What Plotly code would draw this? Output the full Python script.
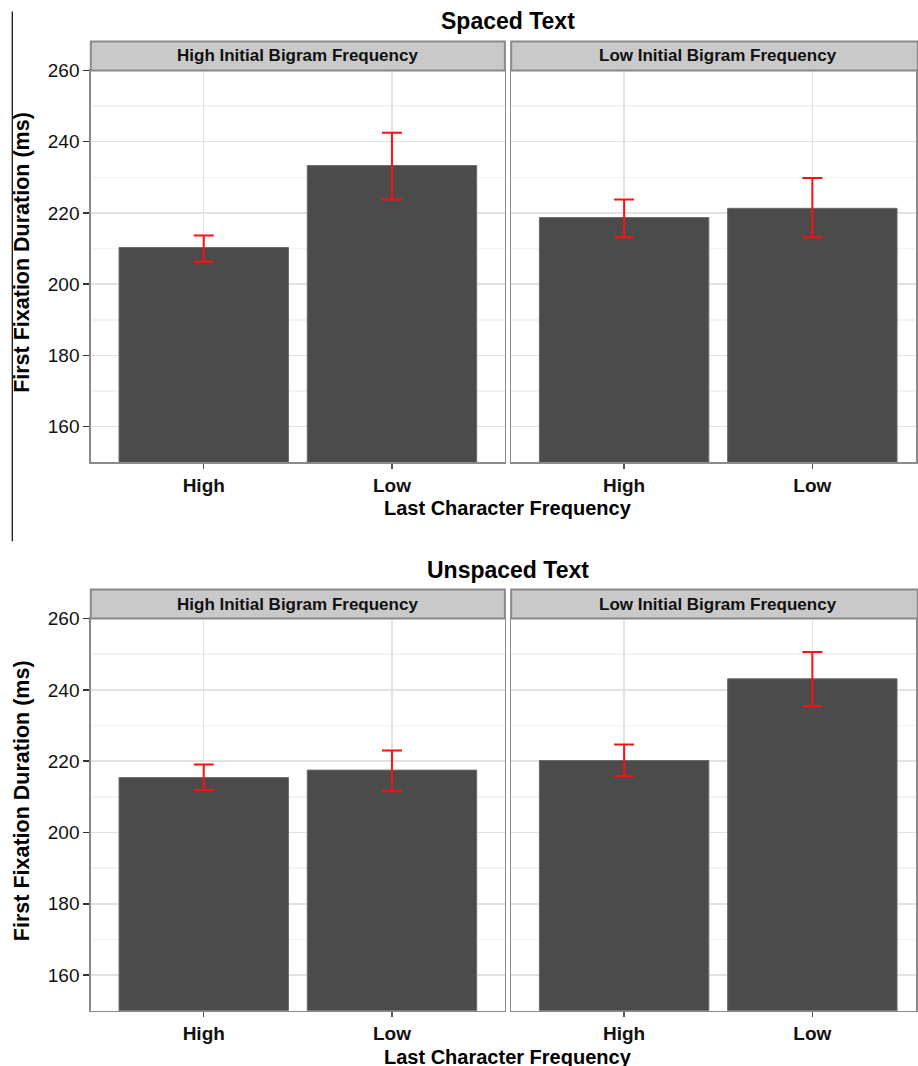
import plotly.graph_objects as go

# ---------------- data ----------------
categories = ["High", "Low"]          # Last Character Frequency
cat_pos = [1, 2]
facets = ["High Initial Bigram Frequency", "Low Initial Bigram Frequency"]
panel_titles = ["Spaced Text", "Unspaced Text"]

spaced_high_bigram_mean = [210.3, 233.3]
spaced_high_bigram_lo = [206.3, 223.8]
spaced_high_bigram_hi = [213.7, 242.5]

spaced_low_bigram_mean = [218.7, 221.3]
spaced_low_bigram_lo = [213.2, 213.2]
spaced_low_bigram_hi = [223.8, 229.8]

unspaced_high_bigram_mean = [215.4, 217.5]
unspaced_high_bigram_lo = [211.9, 211.6]
unspaced_high_bigram_hi = [219.1, 223.0]

unspaced_low_bigram_mean = [220.2, 243.1]
unspaced_low_bigram_lo = [215.8, 235.4]
unspaced_low_bigram_hi = [224.7, 250.6]

y_ticks = [160, 180, 200, 220, 240, 260]

# ---------------- layout helpers ----------------
W, H = 918, 1066
def px(x):
    return x / W
def py(y):
    t = (y - 9.5) / 0.991
    return 1 - t / H

FONT = "Liberation Sans, Arial, sans-serif"
BAR = "#4b4b4b"
BORDER = "#8a8a8a"
STRIP = "#c9c9c9"

# panel geometry in pixels: (x0, x1) and (y_top, y_bottom)
left_x = (91, 506)
right_x = (512.3, 918)
top_y = (70, 462)
bot_y = (618.3, 1010.7)
strip_h = 29
unit_px = (left_x[1] - left_x[0]) / 2.2
right_range_max = 0.4 + (right_x[1] - right_x[0]) / unit_px

fig = go.Figure()

panels = [
    ("x", "y", spaced_high_bigram_mean, spaced_high_bigram_lo, spaced_high_bigram_hi),
    ("x2", "y2", spaced_low_bigram_mean, spaced_low_bigram_lo, spaced_low_bigram_hi),
    ("x3", "y3", unspaced_high_bigram_mean, unspaced_high_bigram_lo, unspaced_high_bigram_hi),
    ("x4", "y4", unspaced_low_bigram_mean, unspaced_low_bigram_lo, unspaced_low_bigram_hi),
]

for xa, ya, mean, lo, hi in panels:
    fig.add_trace(go.Bar(
        x=cat_pos, y=mean, xaxis=xa, yaxis=ya,
        width=0.9, base=0,
        marker=dict(color=BAR, line=dict(color="#6a6a6a", width=1)),
        error_y=dict(type="data", symmetric=False,
                     array=[h - m for h, m in zip(hi, mean)],
                     arrayminus=[m - l for m, l in zip(mean, lo)],
                     color="#ff1010", thickness=2, width=10),
        showlegend=False, hoverinfo="skip",
    ))

def xaxis_cfg(dom, rmax, anchor):
    return dict(domain=dom, range=[0.4, rmax], anchor=anchor,
                tickvals=cat_pos, ticktext=categories,
                ticks="outside", ticklen=5, tickcolor="#555", tickwidth=1.5,
                tickfont=dict(family=FONT, size=19, color="#111", weight="bold"),
                showgrid=True, gridcolor="#e2e2e2", gridwidth=1.5,
                showline=True, mirror=True, linecolor=BORDER, linewidth=1.5,
                zeroline=False, fixedrange=True)

def yaxis_cfg(dom, anchor, labels):
    return dict(domain=dom, range=[150, 260], anchor=anchor,
                tickvals=y_ticks, showticklabels=labels,
                ticks="outside" if labels else "", ticklen=6, tickcolor="#333", tickwidth=1.5,
                tickfont=dict(family=FONT, size=19, color="#111"),
                showgrid=True, gridcolor="#e2e2e2", gridwidth=1.5,
                minor=dict(dtick=10, tick0=150, showgrid=True, gridcolor="#f3f3f3", gridwidth=1.5),
                showline=True, mirror=True, linecolor=BORDER, linewidth=1.5,
                zeroline=False, fixedrange=True)

dl = [px(left_x[0]), px(left_x[1])]
dr = [px(right_x[0]), 1.0]
dt = [py(top_y[1]), py(top_y[0])]
db = [py(bot_y[1]), py(bot_y[0])]

fig.update_layout(
    xaxis=xaxis_cfg(dl, 2.6, "y"),
    xaxis2=xaxis_cfg(dr, right_range_max, "y2"),
    xaxis3=xaxis_cfg(dl, 2.6, "y3"),
    xaxis4=xaxis_cfg(dr, right_range_max, "y4"),
    yaxis=yaxis_cfg(dt, "x", True),
    yaxis2=yaxis_cfg(dt, "x2", False),
    yaxis3=yaxis_cfg(db, "x3", True),
    yaxis4=yaxis_cfg(db, "x4", False),
)

shapes = []
annotations = []
for (ytop, ybot), title in zip([top_y, bot_y], panel_titles):
    for (x0, x1), facet in zip([left_x, right_x], facets):
        shapes.append(dict(type="rect", xref="paper", yref="paper",
                           x0=px(x0), x1=px(x1) if x1 < W else 1.002,
                           y0=py(ytop), y1=py(ytop - strip_h),
                           fillcolor=STRIP, line=dict(color=BORDER, width=2), layer="above"))
        xc = (x0 + (x0 + 2.2 * unit_px)) / 2
        annotations.append(dict(text=facet, xref="paper", yref="paper",
                                x=px(xc), y=py(ytop - strip_h / 2),
                                xanchor="center", yanchor="middle", showarrow=False,
                                font=dict(family=FONT, size=17, color="#111", weight="bold")))
    center_x = (left_x[0] + right_x[0] + 2.2 * unit_px) / 2
    annotations.append(dict(text=title, xref="paper", yref="paper",
                            x=px(center_x), y=py(ytop - strip_h - 20),
                            xanchor="center", yanchor="middle", showarrow=False,
                            font=dict(family=FONT, size=23, color="#000", weight="bold")))
    annotations.append(dict(text="Last Character Frequency", xref="paper", yref="paper",
                            x=px(center_x), y=py(ybot + 46),
                            xanchor="center", yanchor="middle", showarrow=False,
                            font=dict(family=FONT, size=20, color="#000", weight="bold")))
    annotations.append(dict(text="First Fixation Duration (ms)", xref="paper", yref="paper",
                            x=px(22), y=py((ytop - strip_h + ybot) / 2), textangle=-90,
                            xanchor="center", yanchor="middle", showarrow=False,
                            font=dict(family=FONT, size=21.5, color="#000", weight="bold")))

shapes.append(dict(type="line", xref="paper", yref="paper",
                   x0=px(12.3), x1=px(12.3), y0=py(11), y1=py(541),
                   line=dict(color="#000", width=1.2)))

fig.update_layout(
    width=W, height=H,
    margin=dict(l=0, r=0, t=0, b=0),
    paper_bgcolor="white", plot_bgcolor="white",
    shapes=shapes, annotations=annotations,
    bargap=0,
)

fig.write_html(
    "out.html",
    config={"displayModeBar": False, "staticPlot": True},
    post_script=(
        "document.documentElement.style.margin='0';"
        "document.body.style.margin='0';document.body.style.overflow='hidden';"
        "var d=document.getElementById('{plot_id}');"
        "d.style.position='fixed';d.style.top='0px';d.style.left='0px';"
    ),
)
